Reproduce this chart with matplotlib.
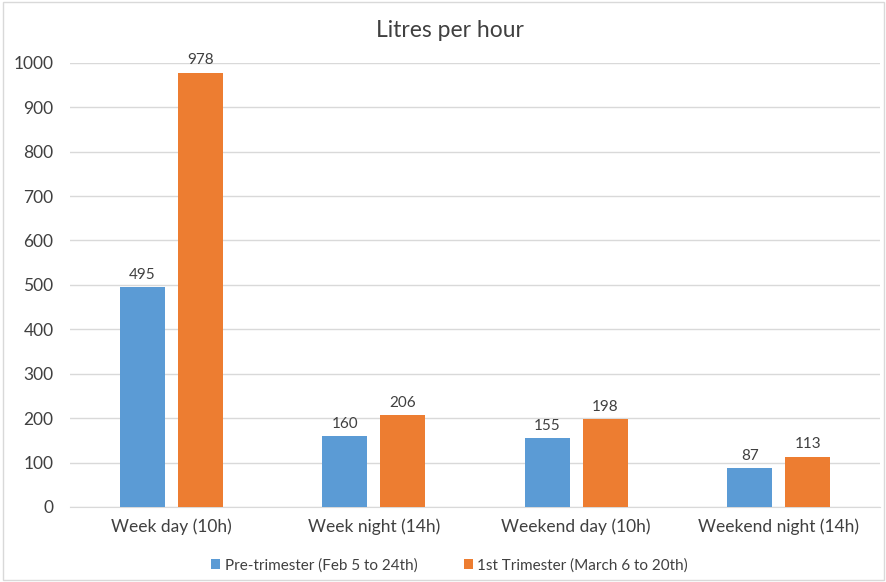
import numpy as np
import matplotlib.pyplot as plt
from matplotlib.patches import Rectangle

plt.rcParams['font.family'] = ['Lato', 'DejaVu Sans']

categories = ["Week day (10h)", "Week night (14h)", "Weekend day (10h)", "Weekend night (14h)"]
pre_trimester = [495, 160, 155, 87]
first_trimester = [978, 206, 198, 113]
series_names = ["Pre-trimester (Feb 5 to 24th)", "1st Trimester (March 6 to 20th)"]

blue = "#5B9BD5"
orange = "#ED7D31"
text_col = "#404040"

fig = plt.figure(figsize=(8.87, 5.82), dpi=100)
ax = fig.add_axes([0.079, 0.129, 0.913, 0.763])

x = np.arange(len(categories))
w = 0.222
gap = 0.032
b1 = ax.bar(x - w / 2 - gap, pre_trimester, w, color=blue, label=series_names[0], zorder=3)
b2 = ax.bar(x + w / 2 + gap, first_trimester, w, color=orange, label=series_names[1], zorder=3)

# value labels above each bar
for bars, vals in ((b1, pre_trimester), (b2, first_trimester)):
    for r, v in zip(bars, vals):
        ax.text(r.get_x() + r.get_width() / 2, v + 12, str(v), ha="center", va="bottom",
                fontsize=11, color=text_col)

ax.set_xlim(-0.5, len(categories) - 0.5)
ax.set_ylim(0, 1000)
ax.set_yticks(np.arange(0, 1001, 100))
ax.yaxis.grid(True, color="#D9D9D9", linewidth=1, zorder=0)
ax.set_xticks(x)
ax.set_xticklabels(categories)
ax.tick_params(axis="both", length=0, labelsize=12.5, colors=text_col)
ax.tick_params(axis="x", pad=8)
ax.tick_params(axis="y", pad=12)
for s in ("top", "right", "left"):
    ax.spines[s].set_visible(False)
ax.spines["bottom"].set_color("#D9D9D9")
ax.set_clip_on(False)

fig.text(0.507, 0.948, "Litres per hour", ha="center", va="center", fontsize=16.5, color=text_col)

fig.legend(loc="center", bbox_to_anchor=(0.507, 0.029), ncol=2, frameon=False,
           fontsize=11, handlelength=0.6, handleheight=0.6, handletextpad=0.3,
           columnspacing=3.0, labelcolor=text_col)

fig.patches.append(Rectangle((0.003, 0.003), 0.994, 0.994, transform=fig.transFigure,
                             fill=False, edgecolor="#D9D9D9", linewidth=1))

fig.savefig("out.png", dpi=100)
